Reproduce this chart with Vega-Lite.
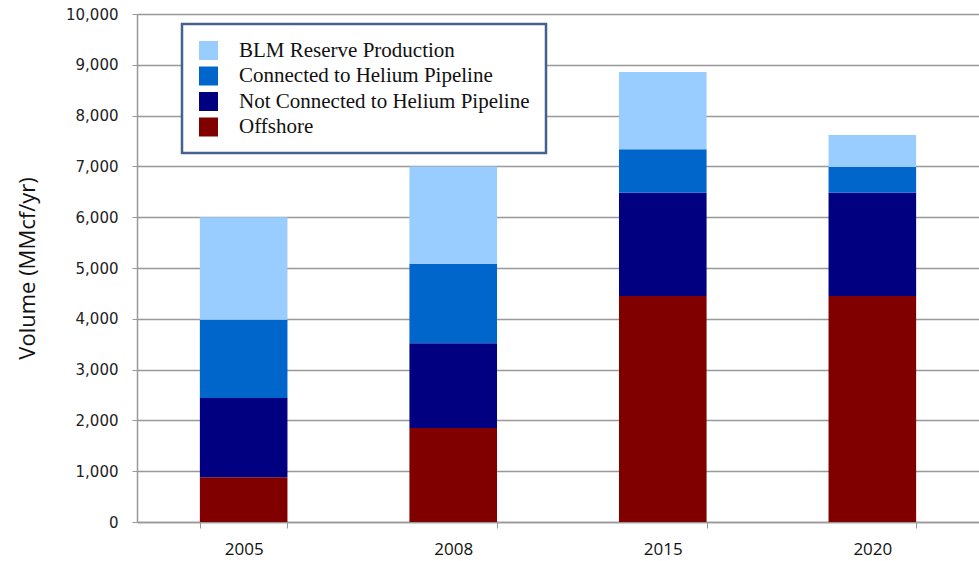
{
  "$schema": "https://vega.github.io/schema/vega-lite/v6.json",
  "autosize": {"type": "none"},
  "width": 842,
  "height": 508,
  "padding": {"left": 137, "top": 14, "right": 0, "bottom": 39},
  "background": "white",
  "config": {"view": {"stroke": null}},
  "data": {
    "values": [
      {"year": "2005", "series": "Offshore", "volume": 880},
      {"year": "2005", "series": "Not Connected to Helium Pipeline", "volume": 1560},
      {"year": "2005", "series": "Connected to Helium Pipeline", "volume": 1540},
      {"year": "2005", "series": "BLM Reserve Production", "volume": 2020},
      {"year": "2008", "series": "Offshore", "volume": 1850},
      {"year": "2008", "series": "Not Connected to Helium Pipeline", "volume": 1670},
      {"year": "2008", "series": "Connected to Helium Pipeline", "volume": 1560},
      {"year": "2008", "series": "BLM Reserve Production", "volume": 1920},
      {"year": "2015", "series": "Offshore", "volume": 4450},
      {"year": "2015", "series": "Not Connected to Helium Pipeline", "volume": 2030},
      {"year": "2015", "series": "Connected to Helium Pipeline", "volume": 860},
      {"year": "2015", "series": "BLM Reserve Production", "volume": 1520},
      {"year": "2020", "series": "Offshore", "volume": 4450},
      {"year": "2020", "series": "Not Connected to Helium Pipeline", "volume": 2030},
      {"year": "2020", "series": "Connected to Helium Pipeline", "volume": 510},
      {"year": "2020", "series": "BLM Reserve Production", "volume": 630}
    ]
  },
  "mark": {"type": "bar"},
  "encoding": {
    "x": {
      "field": "year",
      "type": "nominal",
      "sort": null,
      "scale": {"paddingInner": 0.582, "paddingOuter": 0.3},
      "axis": {
        "title": null,
        "labelAngle": 0,
        "labelFont": "Open Sans",
        "labelFontSize": 17,
        "labelColor": "#111111",
        "labelPadding": 13,
        "tickBand": "extent",
        "tickColor": "#999999",
        "tickSize": 6,
        "domainColor": "#999999",
        "domainWidth": 1.5,
        "grid": false
      }
    },
    "y": {
      "field": "volume",
      "type": "quantitative",
      "aggregate": "sum",
      "stack": "zero",
      "scale": {"domain": [0, 10000], "nice": false},
      "axis": {
        "title": "Volume (MMcf/yr)",
        "titleFont": "Open Sans",
        "titleFontSize": 22,
        "titleFontWeight": "normal",
        "titleColor": "#111111",
        "titlePadding": 26,
        "values": [0, 1000, 2000, 3000, 4000, 5000, 6000, 7000, 8000, 9000, 10000],
        "format": ",d",
        "labelFont": "DejaVu Sans",
        "labelFontSize": 15,
        "labelColor": "#222222",
        "labelPadding": 14,
        "tickColor": "#999999",
        "tickSize": 5,
        "domainColor": "#999999",
        "domainWidth": 1.5,
        "gridColor": "#999999",
        "gridWidth": 1.5
      }
    },
    "color": {
      "field": "series",
      "type": "nominal",
      "scale": {
        "domain": ["BLM Reserve Production", "Connected to Helium Pipeline", "Not Connected to Helium Pipeline", "Offshore"],
        "range": ["#99ccff", "#0066cc", "#000080", "#800000"]
      },
      "legend": {
        "title": null,
        "orient": "none",
        "legendX": 45,
        "legendY": 10,
        "symbolType": "square",
        "symbolSize": 361,
        "symbolStrokeWidth": 0,
        "labelFont": "Liberation Serif",
        "labelFontSize": 21,
        "labelColor": "#111111",
        "labelOffset": 20,
        "labelLimit": 400,
        "rowPadding": 3.5,
        "padding": 16,
        "fillColor": "white",
        "strokeColor": "#44628f",
        "encode": {"legend": {"update": {"strokeWidth": {"value": 2.5}}}}
      }
    },
    "order": {"field": "series", "sort": "descending"}
  }
}
